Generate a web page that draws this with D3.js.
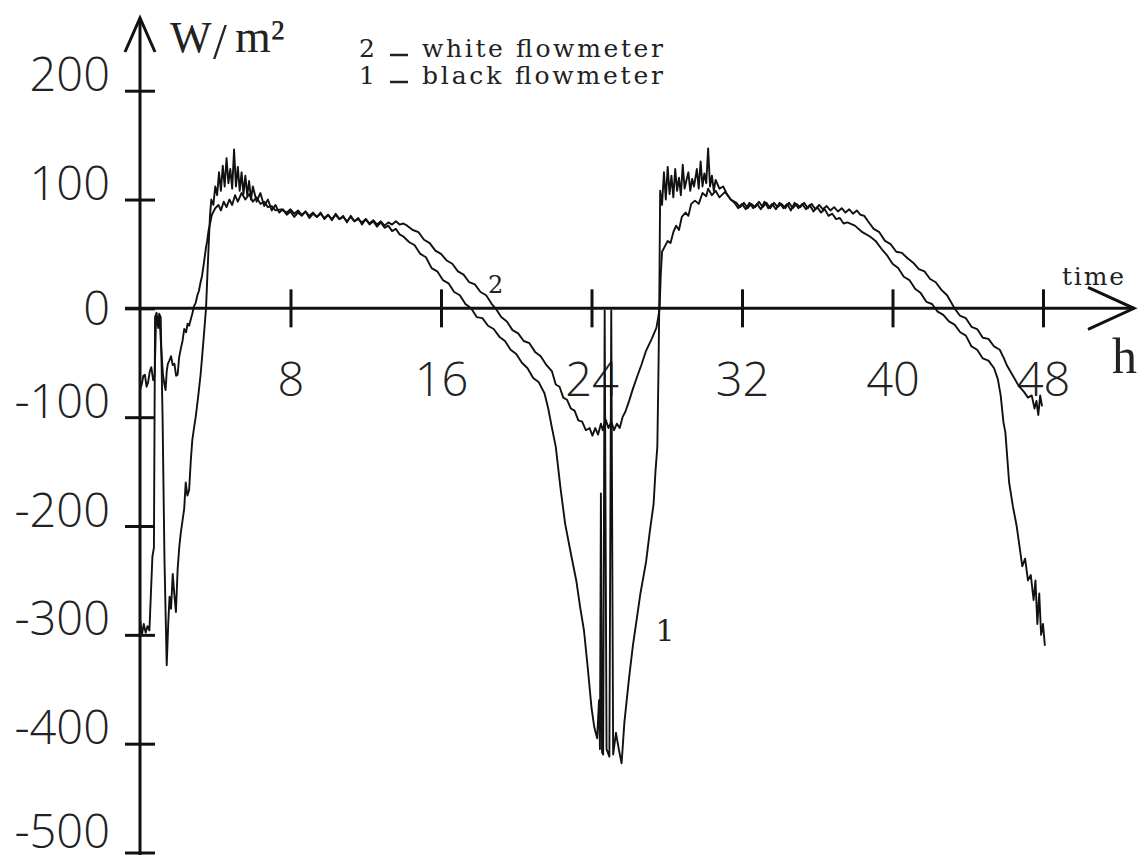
<!DOCTYPE html>
<html lang="en">
  <head>
    <meta charset="UTF-8" />
    <title>Heat flux, white and black flowmeter</title>
    <script src="https://d3js.org/d3.v7.min.js"></script>
    <style>
      body { margin: 0; background: #fff; }
      .num { font-family: 'Open Sans', sans-serif; font-weight: 300; font-size: 47px; fill: #222; }
      .serif { font-family: 'Liberation Serif', serif; fill: #222; }
      .type { font-family: 'DejaVu Serif', serif; fill: #222; }
    </style>
  </head>
  <body>
    <div id="chart"></div>
    <script>
      // tick values
      const xTicks = [8, 16, 24, 32, 40, 48];
      const yTicks = [200, 100, 0, -100, -200, -300, -400, -500];

      // curve 1 - black flowmeter (time in h, flux in W/m2)
      const blackHours = [
        0.0, 0.1, 0.2, 0.3, 0.4, 0.5, 0.58, 0.66, 0.74, 0.8, 0.88, 0.95, 1.02, 1.1, 1.2, 1.3, 1.42, 1.5,
        1.57, 1.65, 1.74, 1.82, 1.91, 2.0, 2.09, 2.17, 2.26, 2.35, 2.43, 2.52, 2.61, 2.7, 2.78, 2.87,
        2.96, 3.1, 3.22, 3.3, 3.39, 3.51, 3.58, 3.65, 3.72, 3.79, 3.9, 4.0, 4.1, 4.2, 4.3, 4.4, 4.5,
        4.6, 4.7, 4.8, 4.9, 5.0, 5.1, 5.2, 5.3, 5.4, 5.5, 5.6, 5.7, 5.8, 5.9, 6.0, 6.2, 6.4, 6.6, 6.8,
        7.0, 7.2, 7.4, 7.6, 7.8,
        8.0, 8.2, 8.4, 8.6, 8.8, 9.0, 9.2, 9.4, 9.6, 9.8, 10.0, 10.2, 10.4, 10.6, 10.8, 11.0, 11.2,
        11.4, 11.6, 11.8, 12.0, 12.2, 12.4, 12.6, 12.8, 13.0, 13.2, 13.4, 13.6, 13.8, 14.0,
        14.3, 14.6, 14.9, 15.2, 15.5, 15.8, 16.1, 16.4, 16.7, 17.0, 17.3, 17.6, 17.9, 18.2, 18.5,
        18.8, 19.1, 19.4, 19.7, 20.0, 20.3, 20.6, 20.9, 21.2, 21.5,
        21.7, 21.9, 22.1, 22.35, 22.6, 22.9, 23.2, 23.4, 23.6, 23.8, 24.0,
        24.15, 24.3, 24.4, 24.45, 24.5, 24.56, 24.62, 24.7, 24.8, 24.95, 25.05, 25.15, 25.3, 25.45,
        25.6, 25.75, 26.0, 26.2, 26.4, 26.6, 26.9, 27.1, 27.3, 27.4, 27.5, 27.56, 27.6, 27.65,
        27.75, 27.85, 27.95, 28.05, 28.15, 28.25, 28.35, 28.45, 28.55, 28.65, 28.75, 28.85, 28.95, 29.05,
        29.15, 29.25, 29.35, 29.45, 29.6, 29.7, 29.8, 29.9, 30.0, 30.1, 30.2, 30.3, 30.4, 30.5, 30.6,
        30.8, 31.0, 31.2, 31.4,
        31.6, 31.8, 32.0, 32.2, 32.4, 32.6, 32.8, 33.0, 33.2, 33.4, 33.6, 33.8, 34.0, 34.2, 34.4,
        34.6, 34.8, 35.0, 35.2, 35.4, 35.6, 35.8, 36.0, 36.2, 36.4, 36.6, 36.8, 37.0, 37.2, 37.4,
        37.6, 38.0, 38.4, 38.8,
        39.1, 39.4, 39.7, 40.0, 40.3, 40.6, 40.9, 41.2, 41.5, 41.8, 42.1, 42.4, 42.7, 43.0, 43.3,
        43.6, 43.9, 44.2, 44.5, 44.8, 45.1, 45.4,
        45.6, 45.75, 45.9, 46.0, 46.2, 46.4, 46.6,
        46.9, 47.05, 47.2, 47.35, 47.5, 47.6, 47.7, 47.8, 47.9, 48.0, 48.1
      ];
      const blackFlux = [
        -285, -300, -290, -298, -292, -296, -262, -228, -220, -8, -4, -16, -5, -8, -100, -230, -328, -290,
        -265, -276, -244, -262, -279, -240, -219, -206, -195, -184, -160, -172, -167, -140, -121, -110,
        -100, -80, -61, -45, -26, 0, 30, 58, 85, 100, 95, 112, 104, 125, 108, 131, 112,
        138, 115, 128, 110, 146, 112, 130, 108, 125, 105, 122, 104, 117, 100, 112, 98, 106, 94, 100,
        90, 95, 88, 91, 86,
        89, 84, 88, 85, 89, 83, 87, 84, 88, 82, 86, 81, 87, 82, 85, 79, 85,
        80, 83, 77, 82, 77, 80, 75, 79, 74, 76, 71, 73, 68, 66,
        61, 58, 50, 47, 37, 34, 26, 23, 15, 12, 4, 0, -8, -9, -16,
        -19, -26, -30, -38, -42, -50, -55, -64, -68, -78,
        -92, -110, -127, -165, -198, -225, -251, -275, -296, -330, -367,
        -385, -395, -360, -405, -170, -408, -410, -2, -405, -412, -2, -410, -390, -405,
        -418, -380, -339, -310, -286, -262, -233, -205, -180, -150, -127, -57, 0, 108,
        95, 125, 100, 130, 105, 122, 102, 128, 108, 120, 104, 132, 110, 118,
        125, 108, 119, 112, 128, 110, 135, 112, 124, 115, 147, 112, 122, 108, 118,
        110, 112, 105, 100,
        97, 92, 96, 91, 97, 92, 96, 91, 98, 92, 96, 91, 97, 92, 96,
        90, 97, 92, 96, 91, 95, 89, 93, 88, 91, 85, 87, 82, 83, 78,
        79, 76, 70, 66,
        62, 55, 49, 41, 37, 29, 26, 18, 14, 6, 4, -3, -6, -12, -15,
        -22, -25, -35, -38, -46, -48, -55,
        -65, -80, -105, -114, -160, -182, -200,
        -237, -230, -250, -245, -268, -250, -290, -262, -300, -290, -310
      ];

      // curve 2 - white flowmeter
      const whiteHours = [
        0.0, 0.09, 0.18, 0.26, 0.35, 0.43, 0.52, 0.6, 0.7, 0.78, 0.85, 0.9, 0.97, 1.04, 1.13, 1.22,
        1.3, 1.36, 1.42, 1.48, 1.56, 1.65, 1.74, 1.83, 1.92, 2.0, 2.08, 2.17, 2.26, 2.35, 2.45, 2.53,
        2.61, 2.7, 2.78, 2.87, 2.96, 3.05, 3.13, 3.22, 3.3, 3.4, 3.5, 3.57, 3.65, 3.74, 3.82, 3.91,
        4.0, 4.17, 4.3, 4.45, 4.6, 4.75, 4.9, 5.05, 5.2, 5.4, 5.6, 5.8, 6.0, 6.2, 6.4, 6.6, 6.8, 7.0,
        7.2, 7.5,
        7.8, 8.0, 8.2, 8.4, 8.6, 8.8, 9.0, 9.2, 9.4, 9.6, 9.8, 10.0, 10.2, 10.4, 10.6, 10.8, 11.0,
        11.2, 11.4, 11.6, 11.8, 12.0, 12.2, 12.4, 12.6, 12.8, 13.0, 13.2, 13.4, 13.6, 13.8, 14.0, 14.2,
        14.5, 14.8, 15.1, 15.4, 15.7, 16.0, 16.3, 16.6, 16.9, 17.2, 17.5, 17.8, 18.1, 18.4, 18.7,
        18.9, 19.2, 19.5, 19.8, 20.1, 20.4, 20.7, 21.0, 21.3, 21.6, 21.9, 22.1, 22.3, 22.5, 22.7,
        22.9, 23.1, 23.3, 23.5, 23.7, 23.9, 24.05, 24.2, 24.35,
        24.5, 24.6, 24.75, 24.9, 25.05, 25.2, 25.35, 25.5, 25.65, 25.8, 26.0, 26.2, 26.4, 26.65, 26.9,
        27.2, 27.45, 27.55, 27.62, 27.68, 27.75, 27.9, 28.05, 28.2, 28.35, 28.5, 28.65, 28.8, 29.0,
        29.15, 29.3, 29.5, 29.7, 29.9, 30.1, 30.2, 30.4, 30.6, 30.8, 31.1, 31.4,
        31.7, 31.9, 32.1, 32.3, 32.5, 32.7, 32.9, 33.1, 33.3, 33.5, 33.7, 33.9, 34.1, 34.3, 34.5,
        34.7, 34.9, 35.1, 35.3, 35.5, 35.7, 35.9, 36.1, 36.3, 36.5, 36.7, 36.9, 37.1, 37.3, 37.5,
        37.7, 37.9, 38.1, 38.3, 38.5,
        38.7, 39.0, 39.3, 39.6, 39.9, 40.2, 40.5, 40.8, 41.1, 41.4, 41.7, 42.0, 42.3, 42.6, 42.9,
        43.1, 43.3, 43.6, 43.9, 44.2, 44.5, 44.8, 45.1, 45.4, 45.7, 45.9,
        46.1, 46.4, 46.7, 47.0, 47.2, 47.4, 47.55, 47.65, 47.75, 47.85, 47.95
      ];
      const whiteFlux = [
        -75, -70, -62, -61, -72, -68, -58, -54, -66, -61, -12, -8, -18, -9, -37, -61,
        -70, -75, -58, -51, -48, -44, -52, -51, -62, -61, -45, -37, -30, -19, -22, -14,
        -16, -10, -5, 2, 5, 12, 16, 24, 30, 42, 55, 62, 72, 79, 86, 89,
        92, 95, 90, 98, 93, 100, 95, 104, 98, 106, 100, 105, 98, 102, 96, 98, 93, 94,
        90, 91,
        88, 91, 87, 90, 86, 89, 85, 88, 84, 87, 83, 86, 82, 86, 82, 84, 80,
        84, 80, 82, 79, 82, 78, 81, 77, 80, 76, 79, 77, 80, 77, 78, 76,
        72, 70, 63, 60, 53, 50, 44, 41, 34, 31, 24, 22, 15, 12, 4,
        0, -8, -12, -20, -23, -30, -32, -40, -44, -52, -58, -70, -72, -82, -84,
        -92, -94, -103, -104, -112, -110, -117, -110, -116,
        -106, -112, -102, -110, -104, -112, -106, -110, -100, -95, -85, -74, -64, -52, -39,
        -28, -18, -8, 0, 30, 52, 57, 62, 60, 70, 76, 72, 84, 88,
        85, 96, 99, 96, 106, 103, 110, 104, 108, 102, 107, 100,
        97, 93, 97, 92, 96, 93, 98, 93, 97, 92, 97, 93, 96, 92, 97,
        92, 96, 93, 97, 92, 96, 91, 95, 91, 94, 90, 93, 89, 92, 88,
        91, 87, 90, 86, 85,
        80, 73, 70, 62, 59, 52, 51, 46, 42, 36, 34, 27, 24, 17, 12,
        6, 0, -7, -9, -17, -19, -27, -28, -35, -38, -45,
        -53, -62, -71, -77, -82, -80, -92, -85, -98, -80, -90
      ];

      const width = 1140;
      const height = 855;

      const svg = d3
        .select('#chart')
        .append('svg')
        .attr('width', width)
        .attr('height', height)
        .style('background', '#fff');

      const x = d3.scaleLinear().domain([0, 48]).range([140, 1043]);
      const y = d3.scaleLinear().domain([-500, 200]).range([852.5, 90.7]);

      const x0 = x(0);
      const y0 = y(0);

      // y axis: ticks crossing the line, labels sitting on the tick
      const yAxis = svg
        .append('g')
        .attr('transform', `translate(${x0},0)`)
        .call(
          d3.axisLeft(y)
            .tickValues(yTicks)
            .tickFormat((d) => String(d))
            .tickSize(0)
            .tickPadding(30),
        );
      yAxis.select('.domain').remove();
      yAxis
        .selectAll('.tick line')
        .attr('x1', -15)
        .attr('x2', 15)
        .attr('stroke', '#111')
        .attr('stroke-width', 3);
      yAxis
        .selectAll('.tick text')
        .attr('class', 'num')
        .attr('dy', (d) => (d === 0 ? '0.35em' : (d === -500 ? '-5' : '0')));

      // x axis
      const xAxis = svg
        .append('g')
        .attr('transform', `translate(0,${y0})`)
        .call(d3.axisBottom(x).tickValues(xTicks).tickSize(0));
      xAxis.select('.domain').remove();
      xAxis
        .selectAll('.tick line')
        .attr('y1', -19)
        .attr('y2', 19)
        .attr('stroke', '#111')
        .attr('stroke-width', 3);
      xAxis
        .selectAll('.tick text')
        .attr('class', 'num')
        .attr('y', 88)
        .attr('dy', '0');

      // axis lines with open arrow heads
      const axisStyle = (sel) =>
        sel.attr('fill', 'none').attr('stroke', '#111').attr('stroke-width', 3);
      svg.append('line').attr('x1', x0).attr('x2', x0).attr('y1', 18).attr('y2', height).call(axisStyle);
      svg.append('path').attr('d', `M${x0 - 15},52L${x0},18L${x0 + 15},52`).call(axisStyle);
      svg.append('line').attr('x1', 125).attr('x2', 1134).attr('y1', y0).attr('y2', y0).call(axisStyle);
      svg.append('path').attr('d', `M1088,${y0 - 21}L1134,${y0}L1088,${y0 + 21}`).call(axisStyle);

      // the two measured curves
      const line = d3
        .line()
        .x((d) => x(d[0]))
        .y((d) => y(d[1]));

      const black = d3.zip(blackHours, blackFlux);
      const white = d3.zip(whiteHours, whiteFlux);

      [white, black].forEach((series) => {
        svg
          .append('path')
          .datum(series)
          .attr('d', line)
          .attr('fill', 'none')
          .attr('stroke', '#111')
          .attr('stroke-width', 1.9)
          .attr('stroke-linejoin', 'round');
      });

      // curve labels
      svg.append('text').attr('class', 'type').attr('font-size', 24)
        .attr('x', x(18.5)).attr('y', y(14)).text('2');
      svg.append('text').attr('class', 'type').attr('font-size', 30)
        .attr('x', x(27.4)).attr('y', y(-306)).text('1');

      // unit label
      const unit = svg.append('text').attr('class', 'serif').attr('y', 52);
      unit.append('tspan').attr('x', 170).attr('font-size', 44).text('W');
      unit.append('tspan').attr('x', 213).attr('font-size', 50).attr('dy', 6).text('/');
      unit.append('tspan').attr('x', 235).attr('font-size', 46).attr('dy', -6).text('m²');

      // legend
      const legendRows = [
        { key: '2', label: 'white flowmeter', y: 57 },
        { key: '1', label: 'black flowmeter', y: 84 },
      ];
      legendRows.forEach((r) => {
        svg.append('text').attr('class', 'type').attr('font-size', 25)
          .attr('x', 359).attr('y', r.y).text(r.key);
        svg.append('line').attr('x1', 390).attr('x2', 408)
          .attr('y1', r.y - 2).attr('y2', r.y - 2)
          .attr('stroke', '#222').attr('stroke-width', 2.5);
        svg.append('text').attr('class', 'type').attr('font-size', 25)
          .attr('x', 422).attr('y', r.y)
          .attr('textLength', 241).attr('lengthAdjust', 'spacing')
          .text(r.label);
      });

      // axis titles
      svg.append('text').attr('class', 'type').attr('font-size', 25)
        .attr('x', 1062).attr('y', 285)
        .attr('textLength', 62).attr('lengthAdjust', 'spacing').text('time');
      svg.append('text').attr('class', 'serif').attr('font-size', 50)
        .attr('x', 1112).attr('y', 373).text('h');
    </script>
  </body>
</html>
